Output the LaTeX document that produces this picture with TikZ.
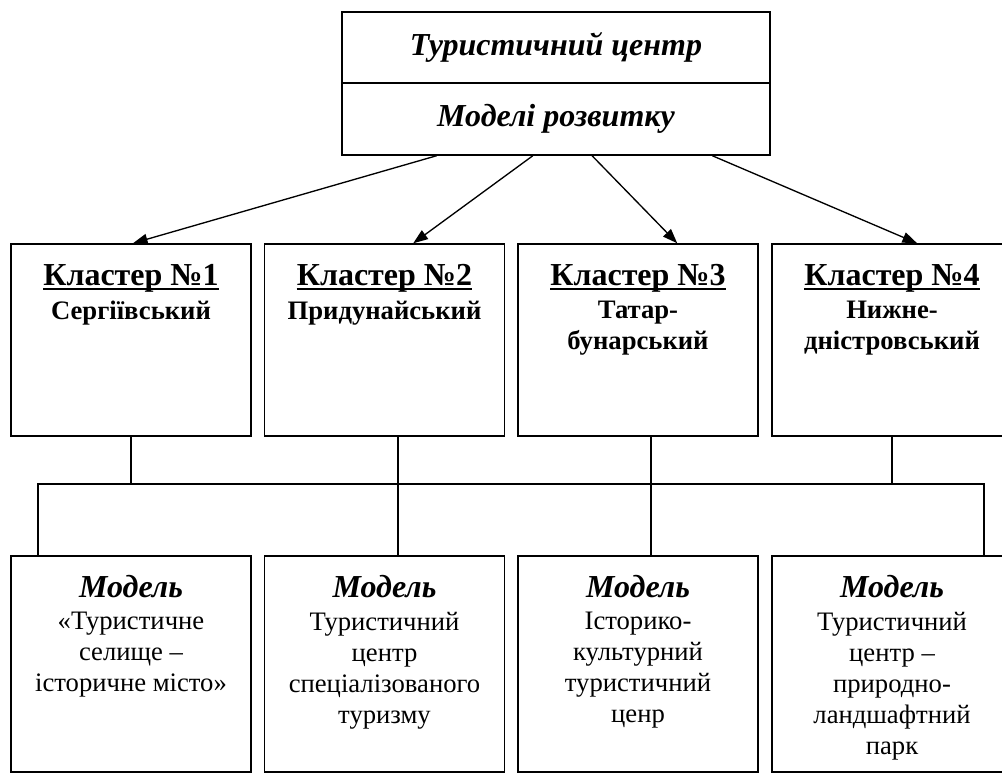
\documentclass[tikz,border=0pt]{standalone}
\usepackage{fontspec}
\setmainfont{Liberation Serif}
\usetikzlibrary{arrows.meta,positioning,calc}

\begin{document}
\begin{tikzpicture}[x=0.75pt,y=0.75pt,
  box/.style={draw,line width=1.1pt,inner sep=0pt},
  link/.style={line width=1pt},
  arr/.style={line width=1pt,-{Triangle[length=11pt,width=8pt]}},
  head/.style={font=\fontsize{24}{28}\selectfont\bfseries\itshape,inner sep=0pt},
  ctitle/.style={font=\fontsize{24}{28}\selectfont\bfseries,inner sep=0pt,anchor=base},
  cname/.style={font=\fontsize{20}{23.25}\selectfont\bfseries,inner sep=0pt,anchor=north,align=center},
  mbody/.style={font=\fontsize{20}{23.25}\selectfont,inner sep=0pt,anchor=north,align=center}]
  \useasboundingbox (0,0) rectangle (1002,-774);
  \fill[white] (0,0) rectangle (1002,-774);
  \clip (0,0) rectangle (1002,-774);

  % centre
  \node[box,head,minimum width=321pt,minimum height=53.25pt] (tc) at (556,-47.5) {Туристичний центр};
  \node[box,head,minimum width=321pt,minimum height=54pt] (md) at (556,-119) {Моделі розвитку};

  % clusters
  \foreach \n/\x/\name in {1/131/Сергіївський,2/384.5/Придунайський,3/638/{Татар-\\бунарський},4/892/{Нижне-\\дністровський}} {
    \node[box,minimum width=180pt,minimum height=144pt] (c\n) at (\x,-340) {};
    \node[ctitle] (t\n) at (\x,-285) {Кластер №\n};
    \draw[line width=1.4pt] ([yshift=-3pt]t\n.base west) -- ([yshift=-3pt]t\n.base east);
    \node[cname] (n\n) at (\x,-301) {\name};
  }

  % models
  \foreach \n/\x/\body in {1/131/{«Туристичне\\селище –\\історичне місто»},
      2/384.5/{Туристичний\\центр\\спеціалізованого\\туризму},
      3/638/{Історико-\\культурний\\туристичний\\ценр},
      4/892/{Туристичний\\центр –\\природно-\\ландшафтний\\парк}} {
    \node[box,minimum width=180pt,minimum height=162pt] (m\n) at (\x,-664) {};
    \node[head,anchor=base] (h\n) at (\x,-597) {Модель};
    \node[mbody] (b\n) at (\x,-612) {\body};
  }

  % arrows
  \foreach \n/\a/\b in {1/0.222/0.508,2/0.446/0.619,3/0.584/0.6625,4/0.864/0.604} {
    \draw[arr] ($(md.south west)!\a!(md.south east)$) -- ($(c\n.north west)!\b!(c\n.north east)$);
  }

  % tree
  \coordinate (bl) at (38,-484);
  \coordinate (br) at (984,-484);
  \draw[link] (bl |- m1.north) -- (bl) -- (br) -- (br |- m4.north);
  \draw[link] (c1.south) -- (c1.south |- bl);
  \draw[link] (c4.south) -- (c4.south |- br);
  \draw[link] ($(c2.south west)!0.556!(c2.south east)$) -- ($(m2.north west)!0.556!(m2.north east)$);
  \draw[link] ($(c3.south west)!0.554!(c3.south east)$) -- ($(m3.north west)!0.554!(m3.north east)$);
\end{tikzpicture}
\end{document}
